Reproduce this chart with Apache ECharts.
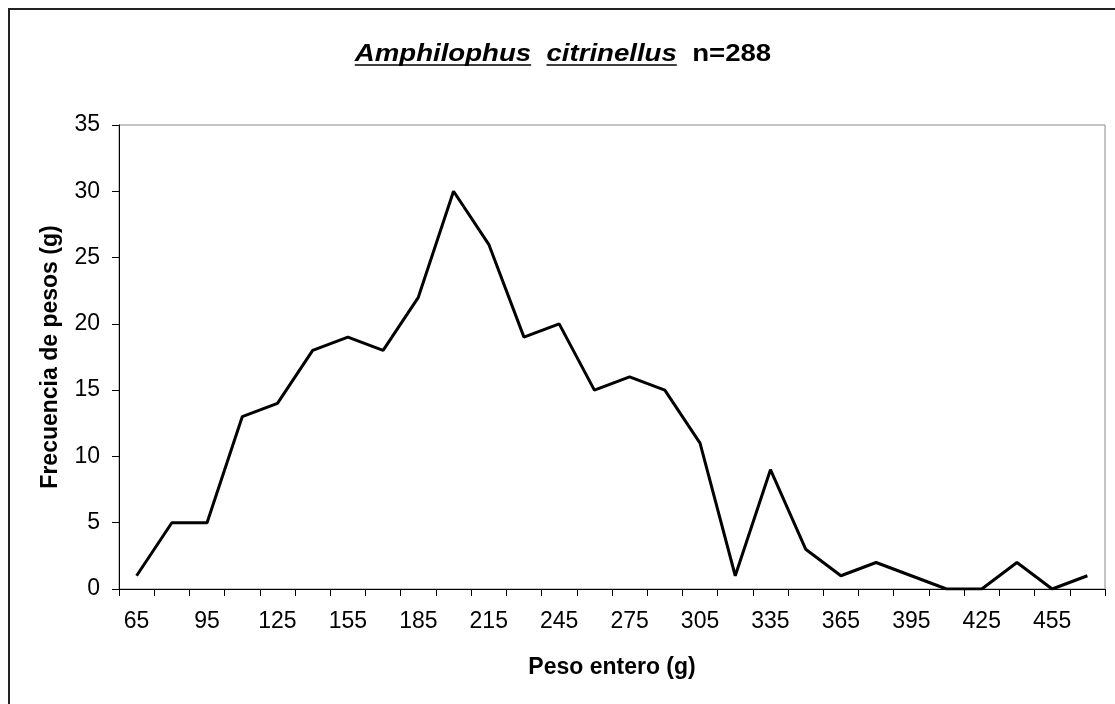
<!DOCTYPE html>
<html>
<head>
<meta charset="utf-8">
<script src="https://cdn.jsdelivr.net/npm/echarts@6/dist/echarts.min.js"></script>
<style>
  html, body { margin: 0; padding: 0; background: #fff; }
  #main { width: 1115px; height: 704px; }
</style>
</head>
<body>
<div id="main"></div>
<script>
// clases de peso (g)
const pesos = [65, 80, 95, 110, 125, 140, 155, 170, 185, 200, 215, 230, 245, 260,
  275, 290, 305, 320, 335, 350, 365, 380, 395, 410, 425, 440, 455, 470];
// frecuencia por clase
const frecuencias = [1, 5, 5, 13, 14, 18, 19, 18, 22, 30, 26, 19, 20, 15,
  16, 15, 11, 1, 9, 3, 1, 2, 1, 0, 0, 2, 0, 1];
const yTicks = { min: 0, max: 35, interval: 5 };

const FONT = '"Liberation Sans", Arial, sans-serif';

// titulo: partes en cursiva subrayadas + "n=288"
const tituloPartes = [
  { text: 'Amphilophus', italic: true, underline: true },
  { text: '  ', italic: false },
  { text: 'citrinellus', italic: true, underline: true },
  { text: '  ', italic: false },
  { text: 'n=288', italic: false }
];

function buildTitle() {
  const size = 24;
  const scaleX = 1.15;
  const ctx = document.createElement('canvas').getContext('2d');
  let x = 0;
  const children = [];
  tituloPartes.forEach(p => {
    const font = (p.italic ? 'italic ' : '') + 'bold ' + size + 'px ' + FONT;
    ctx.font = font;
    const w = ctx.measureText(p.text).width;
    children.push({
      type: 'text', x: x, y: 0,
      style: { text: p.text, font: font, fill: '#000', verticalAlign: 'middle' }
    });
    if (p.underline) {
      children.push({
        type: 'line',
        shape: { x1: x, y1: 11, x2: x + w, y2: 11 },
        style: { stroke: '#000', lineWidth: 1.5 }
      });
    }
    x += w;
  });
  return {
    type: 'group',
    x: 563 - (x * scaleX) / 2,
    y: 54,
    scaleX: scaleX,
    children: children
  };
}

const chart = echarts.init(document.getElementById('main'));

chart.setOption({
  animation: false,
  backgroundColor: '#fff',
  textStyle: { fontFamily: FONT },
  grid: {
    left: 119, right: 10, top: 125, bottom: 115,
    show: true, borderColor: '#888', borderWidth: 1
  },
  graphic: [
    {
      type: 'rect',
      shape: { x: 9, y: 9, width: 1200, height: 800 },
      style: { fill: 'none', stroke: '#222', lineWidth: 2 }
    },
    buildTitle()
  ],
  xAxis: {
    type: 'category',
    data: pesos,
    boundaryGap: true,
    name: 'Peso entero (g)',
    nameLocation: 'middle',
    nameGap: 67,
    nameTextStyle: { fontSize: 23, fontWeight: 'bold', color: '#000', fontFamily: FONT },
    axisLine: { lineStyle: { color: '#000', width: 1 } },
    axisTick: { show: true, interval: 0, length: 7, lineStyle: { color: '#000' } },
    axisLabel: { interval: 1, fontSize: 23, color: '#000', margin: 21, fontFamily: FONT },
    splitLine: { show: false }
  },
  yAxis: {
    type: 'value',
    min: yTicks.min,
    max: yTicks.max,
    interval: yTicks.interval,
    name: 'Frecuencia de pesos (g)',
    nameLocation: 'middle',
    nameGap: 57,
    nameTextStyle: { fontSize: 23, fontWeight: 'bold', color: '#000', fontFamily: FONT },
    axisLine: { show: true, lineStyle: { color: '#000', width: 1 } },
    axisTick: { show: true, length: 7, lineStyle: { color: '#000' } },
    axisLabel: { fontSize: 23, color: '#000', margin: 19, fontFamily: FONT },
    splitLine: { show: false }
  },
  series: [
    {
      name: 'Frecuencia',
      type: 'line',
      data: frecuencias,
      showSymbol: false,
      symbol: 'none',
      lineStyle: { color: '#000', width: 3 },
      itemStyle: { color: '#000' }
    }
  ]
});
</script>
</body>
</html>
